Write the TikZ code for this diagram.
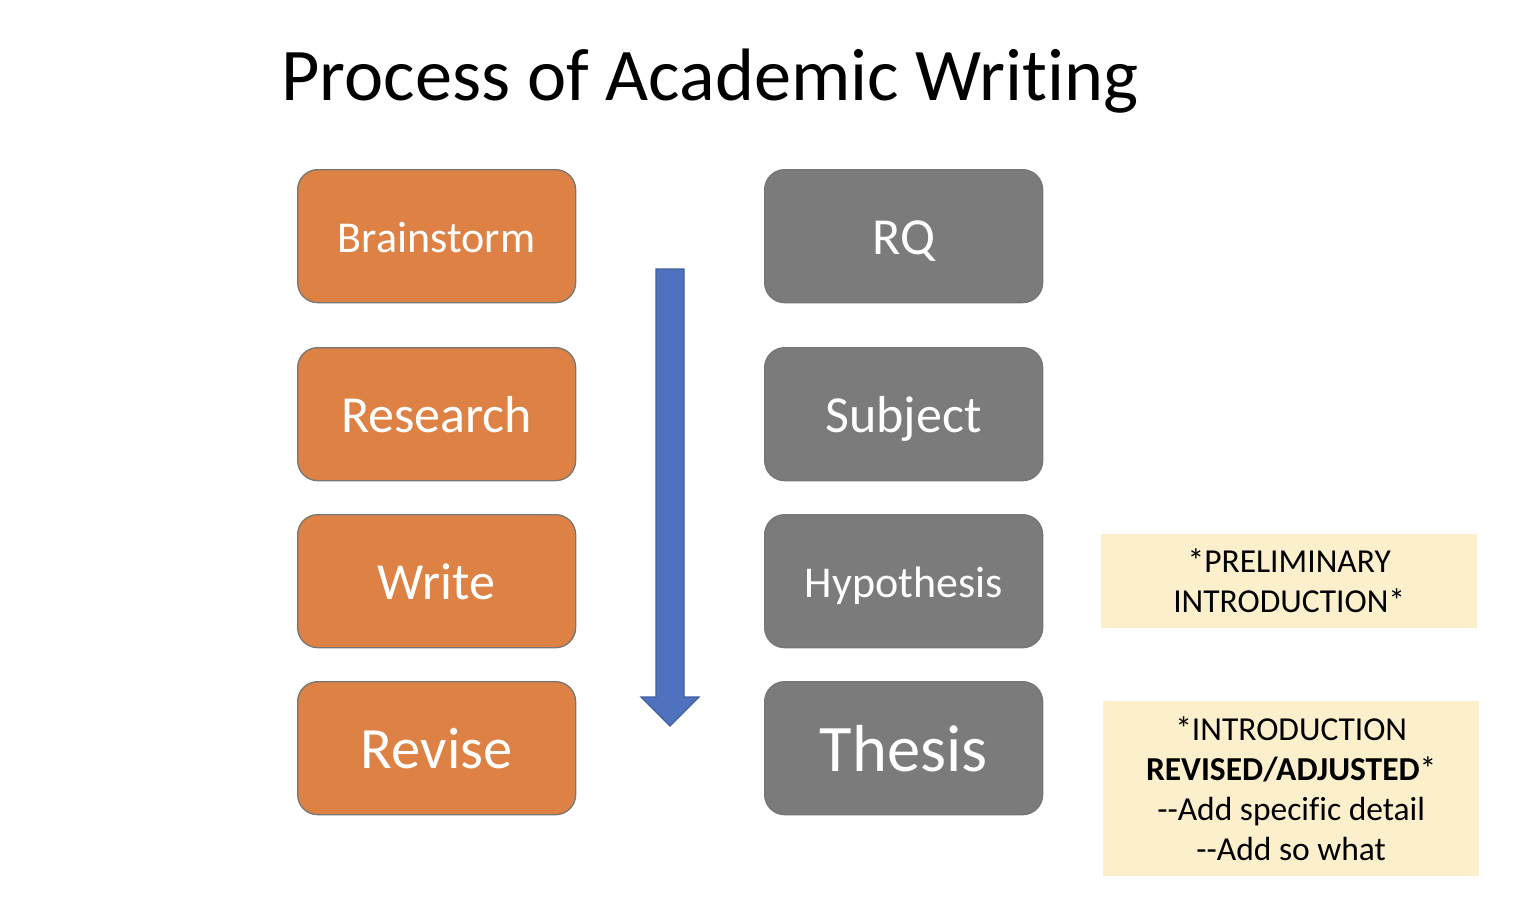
\documentclass[tikz,border=0pt]{standalone}
\usepackage{fontspec}
\setmainfont{Carlito}[Ligatures={TeX,NoCommon}]
\definecolor{orangefill}{HTML}{DD8244}
\definecolor{grayfill}{HTML}{7B7B7B}
\definecolor{boxedge}{HTML}{767676}
\definecolor{arrowfill}{HTML}{4E72BE}
\definecolor{arrowedge}{HTML}{41609F}
\definecolor{notefill}{HTML}{FCF0CC}
\tikzset{
  stepbox/.style={rectangle, rounded corners=20pt, minimum width=278pt, minimum height=133pt, inner sep=0pt, draw=boxedge, line width=1.3pt, text=white, anchor=north west, text depth=0pt},
  orangebox/.style={stepbox, fill=orangefill},
  graybox/.style={stepbox, fill=grayfill},
  fs/.style={font=\fontsize{#1}{#1}\selectfont, text height=0.644*#1pt+4pt},
  notebox/.style={rectangle, fill=notefill, inner sep=0pt, anchor=north west, align=center, text=black, font=\fontsize{33.5}{40}\selectfont},
}
\begin{document}
\begin{tikzpicture}[x=1pt,y=-1pt]
\useasboundingbox (0,0) rectangle (1516,908);
\node[anchor=base, font=\fontsize{74.3}{90}\selectfont] (title) at (710,100) {Process of Academic Writing};
\node[orangebox, fs=44] (brain) at (297,169) {Brainstorm};
\node[orangebox, fs=52] (research) at (297,347) {Research};
\node[orangebox, fs=52] (write) at (297,514) {Write};
\node[orangebox, fs=58.5] (revise) at (297,681) {Revise};
\node[graybox, fs=52] (rq) at (764,169) {RQ};
\node[graybox, fs=52] (subject) at (764,347) {Subject};
\node[graybox, fs=44] (hyp) at (764,514) {Hypothesis};
\node[graybox, fs=66.5] (thesis) at (764,681) {Thesis};
\node[notebox, minimum width=376pt, minimum height=94pt] (note1) at (1101,534) {*PRELIMINARY\\INTRODUCTION*};
\node[notebox, minimum width=376pt, minimum height=175pt] (note2) at (1103,701) {*INTRODUCTION\\\textbf{REVISED/ADJUSTED}*\\-{}-Add specific detail\\-{}-Add so what};
\draw[fill=arrowfill, draw=arrowedge, line width=1.2pt, line join=miter]
  (656,269) -- (684,269) -- (684,697) -- (699,697) -- (670,726) -- (641,697) -- (656,697) -- cycle;
\end{tikzpicture}
\end{document}
